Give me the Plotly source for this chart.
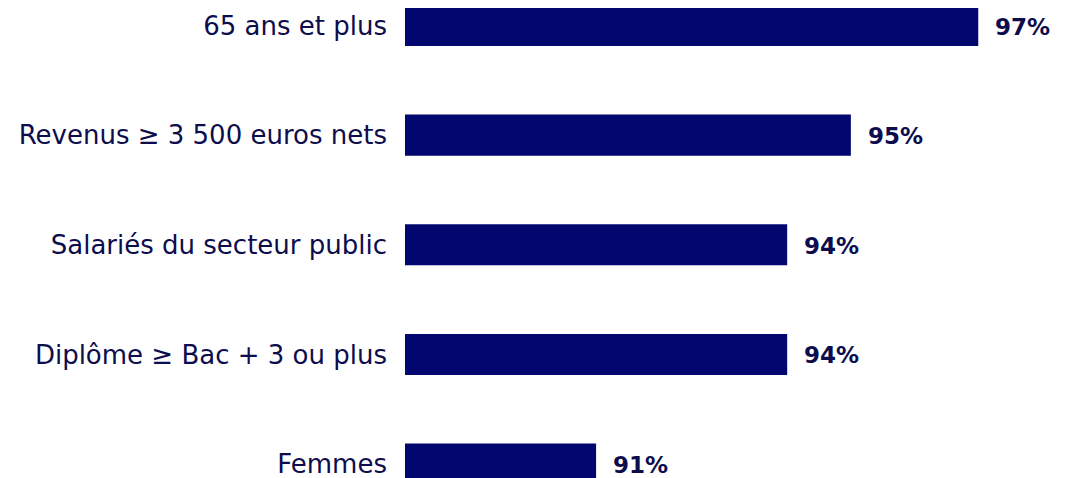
import plotly.graph_objects as go

categories = ["Femmes", "Diplôme ≥ Bac + 3 ou plus", "Salariés du secteur public",
              "Revenus ≥ 3 500 euros nets", "65 ans et plus"]
values = [91, 94, 94, 95, 97]
value_labels = ["91%", "94%", "94%", "95%", "97%"]

bar_color = "#02066F"
text_color = "#0d0d4d"

fig = go.Figure()
fig.add_trace(go.Bar(
    x=values, y=list(range(len(categories))), orientation="h",
    marker=dict(color=bar_color, line=dict(width=0)),
    width=0.375, hoverinfo="skip",
))

for i, (v, lab) in enumerate(zip(values, value_labels)):
    fig.add_annotation(x=v, y=i, text=lab, showarrow=False, xanchor="left",
                       xshift=15, yshift=-1,
                       font=dict(family="DejaVu Sans", size=23, color=text_color, weight="bold"))

fig.update_layout(
    width=1076, height=478,
    margin=dict(l=397, r=0, t=0, b=0),
    paper_bgcolor="white", plot_bgcolor="white",
    showlegend=False,
    xaxis=dict(range=[88, 98.66], visible=False, fixedrange=True),
    yaxis=dict(range=[-0.2, 4.16], tickmode="array",
               tickvals=list(range(len(categories))), ticktext=categories,
               showgrid=False, zeroline=False, showline=False, ticks="",
               ticklabelstandoff=17,
               tickfont=dict(family="DejaVu Sans", size=26, color=text_color)),
    font=dict(family="DejaVu Sans", color=text_color),
)

fig.write_html("out.html")
